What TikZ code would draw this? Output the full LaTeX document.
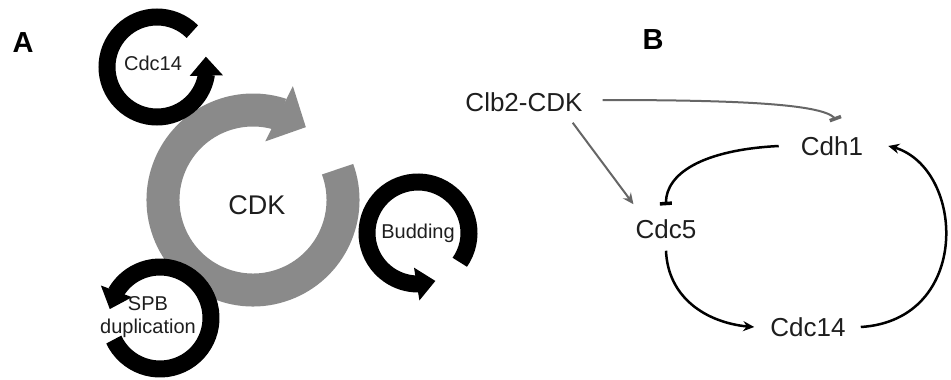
\documentclass[tikz,border=0pt]{standalone}
\usepackage{fontspec}
\setmainfont{Liberation Sans}
\usetikzlibrary{arrows.meta,bending,positioning}
\definecolor{ringgray}{HTML}{8A8A8A}
\definecolor{linkgray}{HTML}{666666}
\definecolor{ink}{HTML}{1E1E1E}

\begin{document}
\begin{tikzpicture}[x=1pt,y=1pt,lab/.style={font=\fontsize{20}{21}\selectfont,text=ink,align=center,inner sep=0pt},gene/.style={font=\fontsize{26}{28}\selectfont,text=ink,inner sep=2pt},panel/.style={font=\fontsize{29}{30}\selectfont\bfseries,inner sep=0pt},cyc/.style={line width=17pt,-{Triangle[width=32pt,length=19pt]}},bigcyc/.style={ringgray,line width=33pt,-{Triangle[width=60pt,length=30pt]}},act/.style={line width=2.5pt,-{Stealth[length=11pt,width=10pt]}},inh/.style={line width=2.5pt,-{Bar[width=12pt,line width=3.5pt]}}]
\useasboundingbox (0,0) rectangle (951,-380);
\coordinate (cdkc) at (253,-200);
\coordinate (topc) at (157,-67);
\coordinate (budc) at (418,-233);
\coordinate (spbc) at (160,-318);
\draw[bigcyc] ([shift={(20:90)}]cdkc) arc[start angle=20,end angle=-306,radius=90];
\draw[cyc] ([shift={(45:50)}]topc) arc[start angle=45,end angle=372,radius=50];
\draw[cyc] ([shift={(-35:51)}]budc) arc[start angle=-35,end angle=290,radius=51];
\draw[cyc] ([shift={(205:51)}]spbc) arc[start angle=205,end angle=530,radius=51];
\node[panel] (pa) at (23,-43) {A};
\node[panel] (pb) at (653,-40) {B};
\node[lab,font=\fontsize{27}{28}\selectfont] (cdk) at (257,-205) {CDK};
\node[lab] (cdcA) at (153,-63) {Cdc14};
\node[lab] (bud) at (418,-233) {Budding};
\node[lab,font=\fontsize{20}{23}\selectfont] (spb) at (148,-317) {SPB\\duplication};
\node[gene] (clb) at (524,-102) {Clb2-CDK};
\node[gene] (cdh) at (832,-146) {Cdh1};
\node[gene] (cdc5) at (666,-229) {Cdc5};
\node[gene] (cdcB) at (808,-327) {Cdc14};
\draw[inh,linkgray,line width=2pt] ([shift={(18,2)}]clb.east) .. controls (740,-100) and (830,-104) .. ([shift={(4,14)}]cdh.north);
\draw[act,linkgray,line width=2pt] ([shift={(-12,-9)}]clb.south east) -- ([yshift=13]cdc5.north west);
\draw[inh] ([xshift=-20]cdh.west) .. controls (700,-150) and (664,-175) .. ([yshift=12]cdc5.north);
\draw[act] ([yshift=-10]cdc5.south) .. controls (668,-300) and (710,-325) .. ([xshift=-14]cdcB.west);
\draw[act] ([xshift=13]cdcB.east) .. controls (975,-320) and (965,-160) .. ([xshift=23]cdh.east);
\end{tikzpicture}
\end{document}
